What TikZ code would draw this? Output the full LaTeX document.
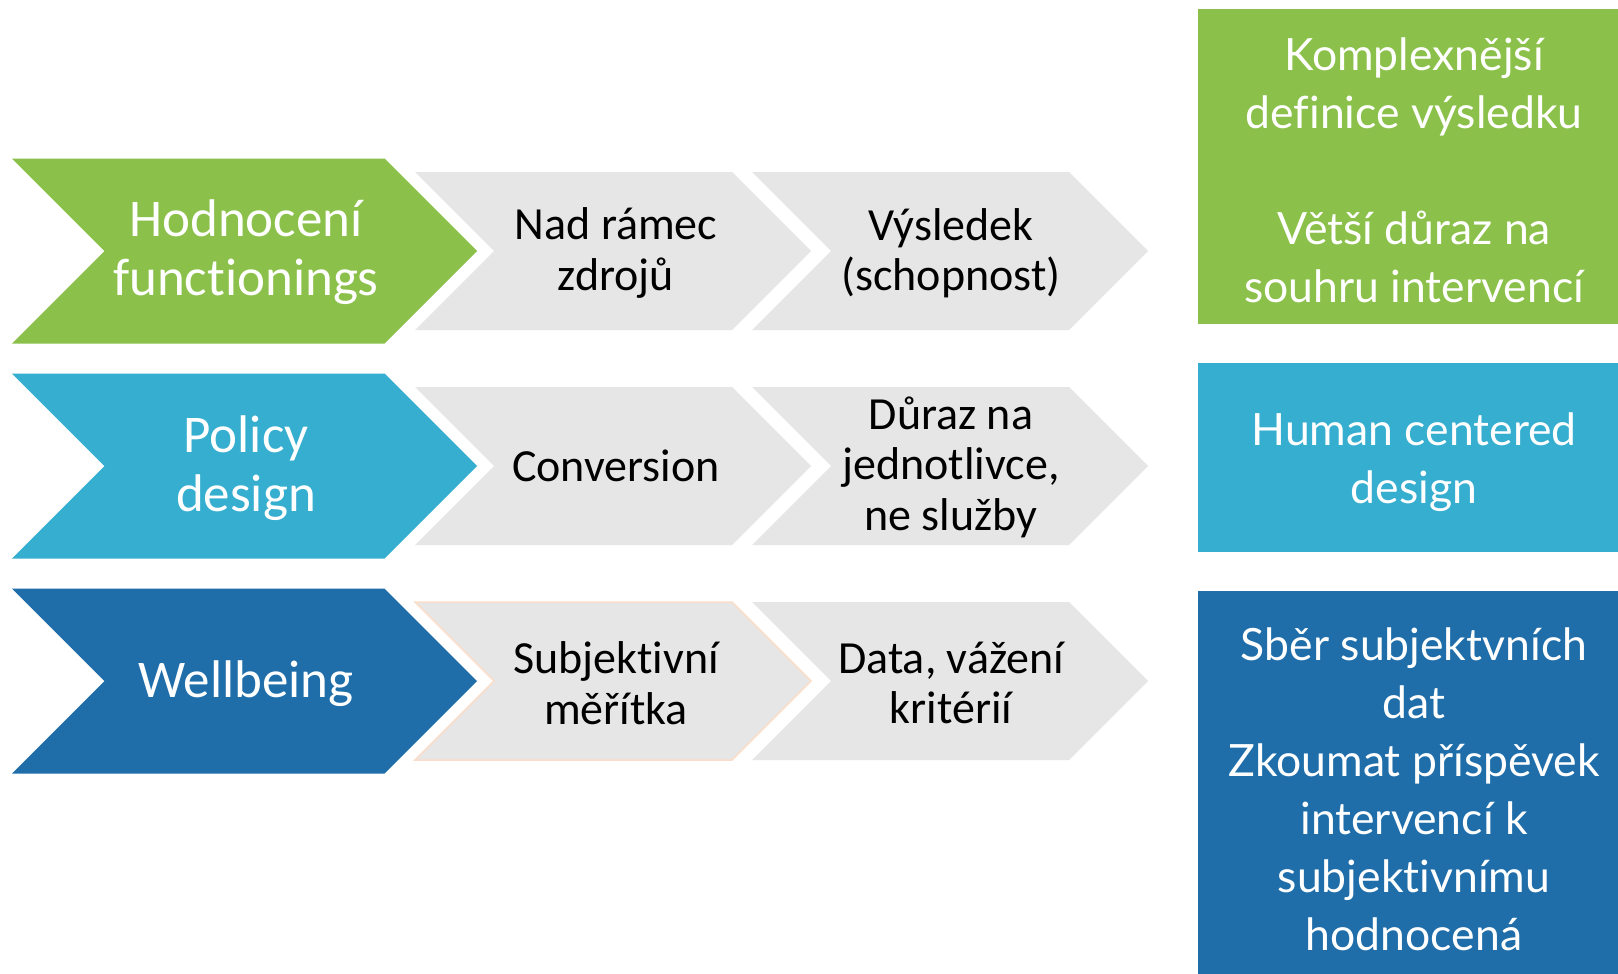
\documentclass[tikz,border=0pt]{standalone}
\usepackage{fontspec}
\setmainfont{Carlito}[Ligatures={NoCommon}]
\newfontfamily\boxfont{Lato}[Ligatures={NoCommon}]
\definecolor{cgreen}{RGB}{139,193,74}
\definecolor{cblue}{RGB}{54,174,208}
\definecolor{cdark}{RGB}{31,110,170}
\definecolor{cgray}{RGB}{231,230,230}
\definecolor{cpeach}{RGB}{250,222,202}
\newcommand\chevshape[5]{\fill[#5] (#1,#3-#4) -- (#2-#4,#3-#4) -- (#2,#3) -- (#2-#4,#3+#4) -- (#1,#3+#4) -- (#1+#4,#3) -- cycle;}
\tikzset{
  headtext/.style={text=white, align=center, font=\fontsize{53}{58.6}\selectfont, inner sep=0pt},
  graytext/.style={text=black, align=center, font=\fontsize{46}{50.5}\selectfont, inner sep=0pt},
  boxtext/.style={text=white, align=center, font=\boxfont\fontsize{44.5}{58}\selectfont, inner sep=0pt},
}
\begin{document}
\begin{tikzpicture}[x=1pt,y=-1pt]
\useasboundingbox (0,0) rectangle (1618,974);
\fill[white] (0,0) rectangle (1618,974);
% row 1
\chevshape{12}{477}{251}{92.5}{cgreen}
\chevshape{415}{811}{251}{79}{cgray}
\chevshape{752}{1148}{251}{79}{cgray}
% row 2
\chevshape{12}{477}{466}{92.5}{cblue}
\chevshape{415}{811}{466}{79}{cgray}
\chevshape{752}{1148}{466}{79}{cgray}
% row 3
\chevshape{12}{477}{681}{92.5}{cdark}
\chevshape{415}{811}{681}{79}{cgray}
\chevshape{752}{1148}{681}{79}{cgray}
\draw[cpeach, line width=1.5pt] (415,681-79) -- (811-79,681-79) -- (811,681) -- (811-79,681+79) -- (415,681+79) -- (415+79,681) -- cycle;
% texts
\node[headtext] (h1) at (246,252) {Hodnocení\\functionings};
\node[headtext] (h2) at (246,468) {Policy\\design};
\node[headtext] (h3) at (246,684) {Wellbeing};
\node[graytext] (a1) at (616,253) {Nad rámec\\zdrojů};
\node[graytext] (b1) at (951,253) {Výsledek\\(schopnost)};
\node[graytext] (a2) at (616,466) {Conversion};
\node[graytext] (b2) at (951,467) {Důraz na\\jednotlivce,\\ne služby};
\node[graytext] (a3) at (616,683) {Subjektivní\\měřítka};
\node[graytext] (b3) at (951,683) {Data, vážení\\kritérií};
% right boxes
\fill[cgreen] (1198,9) rectangle (1618,324);
\fill[cblue] (1198,363) rectangle (1618,552);
\fill[cdark] (1198,591) rectangle (1618,974);
\node[boxtext] (r1) at (1414,170) {Komplexnější\\definice výsledku\\[58pt]Větší důraz na\\souhru intervencí};
\node[boxtext] (r2) at (1414,462) {Human centered\\design};
\node[boxtext] (r3) at (1414,789) {Sběr subjektvních\\dat\\Zkoumat příspěvek\\intervencí k\\subjektivnímu\\hodnocená};
\end{tikzpicture}
\end{document}
